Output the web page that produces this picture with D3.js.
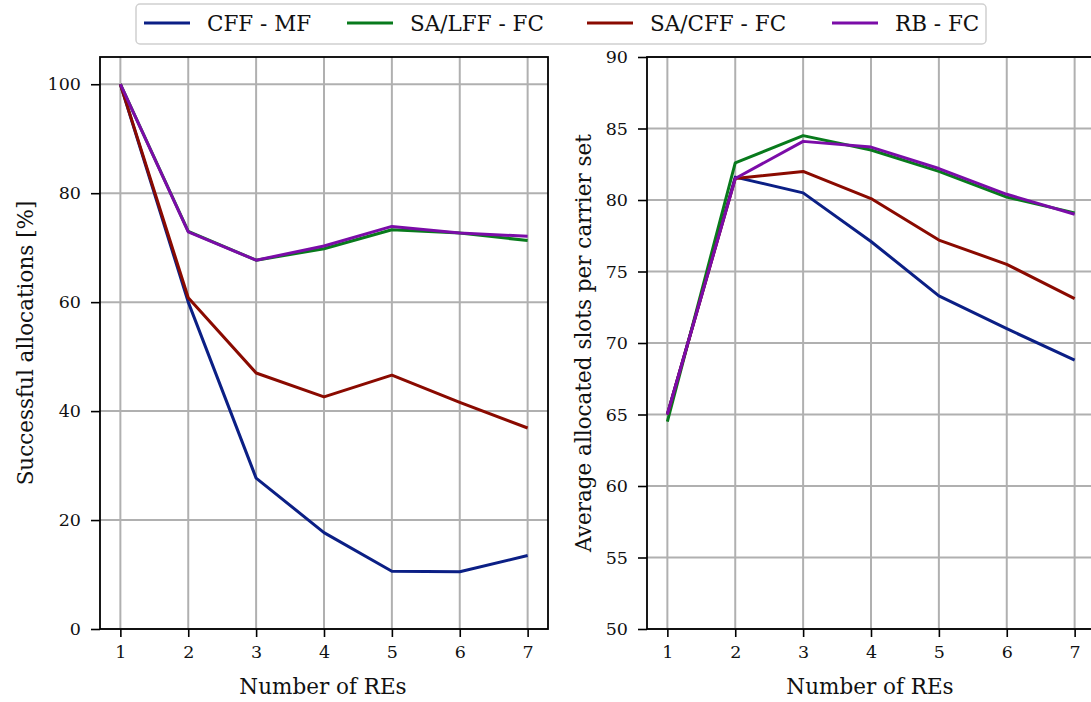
<!DOCTYPE html>
<html><head><meta charset="utf-8">
<script src="https://cdn.jsdelivr.net/npm/d3@7"></script>
<style>body{margin:0;background:#fff;} text{font-family:"DejaVu Serif",serif;}</style>
</head><body><svg id="c" width="1091" height="702"></svg>
<script>
const xs = [1,2,3,4,5,6,7];
const seriesNames = ["CFF - MF","SA/LFF - FC","SA/CFF - FC","RB - FC"];
const colors = ["#0b1f85","#087a1c","#8a0a00","#7b0ca8"];
const successCFF_MF   = [100,60.0,27.7,17.7,10.6,10.5,13.5];
const successSA_LFF   = [100,73.0,67.7,69.8,73.3,72.7,71.3];
const successSA_CFF   = [100,60.8,47.0,42.6,46.6,41.6,36.9];
const successRB       = [100,72.9,67.7,70.3,73.9,72.7,72.1];
const slotsCFF_MF     = [65.0,81.6,80.5,77.1,73.3,71.0,68.8];
const slotsSA_LFF     = [64.5,82.6,84.5,83.5,82.0,80.2,79.1];
const slotsSA_CFF     = [65.0,81.5,82.0,80.1,77.2,75.5,73.1];
const slotsRB         = [65.0,81.5,84.1,83.7,82.2,80.4,79.0];
const leftTicks = [0,20,40,60,80,100];
const rightTicks = [50,55,60,65,70,75,80,85,90];

const svg = d3.select("#c");
const plotTop = 57, plotBottom = 629;
const tickFont = 17.5, labelFont = 21.5;
function panel(x0, yDom, ticks, data, ylabel, ylabelX){
  const w = 448;
  const x = d3.scaleLinear().domain([0.7,7.3]).range([x0, x0+w]);
  const y = d3.scaleLinear().domain(yDom).range([plotBottom, plotTop]);
  const g = svg.append("g");
  g.selectAll(".gx").data(xs).enter().append("line")
    .attr("x1",d=>x(d)).attr("x2",d=>x(d)).attr("y1",plotTop).attr("y2",plotBottom)
    .attr("stroke","#b0b0b0").attr("stroke-width",2);
  g.selectAll(".gy").data(ticks).enter().append("line")
    .attr("y1",d=>y(d)).attr("y2",d=>y(d)).attr("x1",x0).attr("x2",x0+w)
    .attr("stroke","#b0b0b0").attr("stroke-width",2);
  const line = d3.line().x((d,i)=>x(xs[i])).y(d=>y(d));
  data.forEach((s,i)=>{
    g.append("path").attr("d",line(s)).attr("fill","none")
      .attr("stroke",colors[i]).attr("stroke-width",3).attr("stroke-linejoin","round");
  });
  const xa = g.append("g").attr("transform",`translate(0,${plotBottom})`)
    .call(d3.axisBottom(x).tickValues(xs).tickSize(8).tickPadding(9).tickFormat(d3.format("d")));
  const ya = g.append("g").attr("transform",`translate(${x0},0)`)
    .call(d3.axisLeft(y).tickValues(ticks).tickSize(9).tickPadding(10).tickFormat(d3.format("d")));
  [xa,ya].forEach(a=>{
    a.select(".domain").remove();
    a.selectAll("line").attr("stroke","#000").attr("stroke-width",1.6);
    a.selectAll("text").attr("font-size",tickFont).attr("fill","#111").style("font-family","'DejaVu Serif',serif");
  });
  g.append("rect").attr("x",x0).attr("y",plotTop).attr("width",w).attr("height",plotBottom-plotTop)
    .attr("fill","none").attr("stroke","#000").attr("stroke-width",1.8);
  g.append("text").attr("x",x0+w/2 - 1).attr("y",694).attr("text-anchor","middle")
    .attr("font-size",labelFont).attr("fill","#111").text("Number of REs");
  g.append("text").attr("transform",`translate(${ylabelX},${(plotTop+plotBottom)/2}) rotate(-90)`)
    .attr("text-anchor","middle").attr("font-size",labelFont).attr("fill","#111").text(ylabel);
}
panel(100,[0,105],leftTicks,[successCFF_MF,successSA_LFF,successSA_CFF,successRB],"Successful allocations [%]",33);
panel(647,[50,90],rightTicks,[slotsCFF_MF,slotsSA_LFF,slotsSA_CFF,slotsRB],"Average allocated slots per carrier set",591);

const lg = svg.append("g");
lg.append("rect").attr("x",136).attr("y",4).attr("width",850).attr("height",40).attr("rx",4)
  .attr("fill","#fff").attr("stroke","#d0d0d0").attr("stroke-width",1.5);
const lx = [144,347,587,832];
seriesNames.forEach((n,i)=>{
  lg.append("line").attr("x1",lx[i]).attr("x2",lx[i]+46).attr("y1",23).attr("y2",23)
    .attr("stroke",colors[i]).attr("stroke-width",3);
  lg.append("text").attr("x",lx[i]+63).attr("y",31).attr("font-size",labelFont).attr("fill","#111").text(n);
});
</script></body></html>
